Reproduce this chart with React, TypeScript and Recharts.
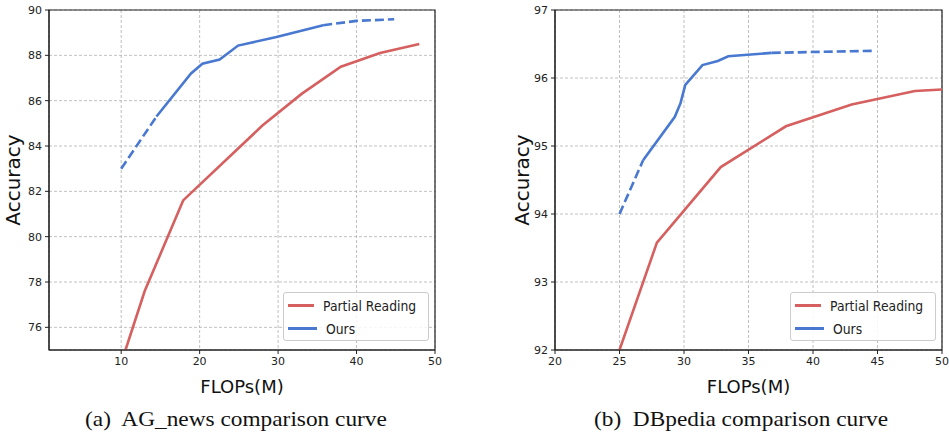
import React from 'react';
import { LineChart, Line, XAxis, YAxis, CartesianGrid, Legend, ReferenceArea } from 'recharts';

// AG_news panel
const agRedX = [10.55, 13, 17.9, 28, 33, 38, 43, 48];
const agRedY = [75.0, 77.6, 81.6, 84.9, 86.3, 87.5, 88.1, 88.5];
const agOursX = [10, 14.5, 18.9, 20.35, 22.55, 24.9, 29.8, 35.75, 40, 44.8];
const agOursY = [83.0, 85.3, 87.2, 87.63, 87.81, 88.43, 88.81, 89.33, 89.52, 89.59];
const agSolid = [1, 7]; // indexes where the solid part of "Ours" starts / ends
const agXTicks = [10, 20, 30, 40, 50];
const agYTicks = [76, 78, 80, 82, 84, 86, 88, 90];

// DBpedia panel
const dbRedX = [25, 27.9, 32.85, 37.9, 43, 47.9, 50];
const dbRedY = [92.0, 93.58, 94.69, 95.29, 95.61, 95.81, 95.83];
const dbOursX = [25, 26.83, 29.29, 29.73, 30.1, 31.43, 32.62, 33.43, 36.8, 44.8];
const dbOursY = [94.0, 94.79, 95.43, 95.63, 95.9, 96.19, 96.25, 96.32, 96.37, 96.4];
const dbSolid = [1, 8];
const dbXTicks = [20, 25, 30, 35, 40, 45, 50];
const dbYTicks = [92, 93, 94, 95, 96, 97];

const seriesNames = ['Partial Reading', 'Ours'];
const RED = '#d65f5f';
const BLUE = '#4878d0';
const FONT = 'DejaVu Sans';

const toPoints = (xs: number[], ys: number[]) => xs.map((x, i) => ({ x, y: ys[i] }));

const LegendBox = () => (
  <div
    style={{
      width: 144,
      height: 47,
      border: '1px solid #cccccc',
      borderRadius: 3,
      background: 'rgba(255,255,255,0.85)',
      fontFamily: FONT,
      fontSize: 14,
      color: '#222',
      boxSizing: 'content-box',
    }}
  >
    {seriesNames.map((name, i) => (
      <div key={name} style={{ display: 'flex', alignItems: 'center', height: 23, marginTop: i === 0 ? 1 : 0 }}>
        <div style={{ width: 29, height: 3, background: i === 0 ? RED : BLUE, marginLeft: 4, marginRight: 9 }} />
        <span style={{ display: 'inline-block', transform: 'scaleX(0.885)', transformOrigin: 'left center', whiteSpace: 'nowrap' }}>
          {name}
        </span>
      </div>
    ))}
  </div>
);

interface PanelProps {
  redX: number[];
  redY: number[];
  oursX: number[];
  oursY: number[];
  solid: number[];
  xDomain: number[];
  yDomain: number[];
  xTicks: number[];
  yTicks: number[];
  width: number;
  yAxisWidth: number;
  rightMargin: number;
  labelOffset: number;
  legendLeft: number;
}

const Panel: React.FC<PanelProps> = (p) => {
  const red = toPoints(p.redX, p.redY);
  const ours = toPoints(p.oursX, p.oursY);
  const start = ours.slice(0, p.solid[0] + 1);
  const mid = ours.slice(p.solid[0], p.solid[1] + 1);
  const end = ours.slice(p.solid[1]);
  const tickStyle = { fontSize: 11, fill: '#222', fontFamily: FONT };
  return (
    <LineChart width={p.width} height={400} margin={{ top: 10, right: p.rightMargin, left: 0, bottom: 5 }}>
      <CartesianGrid stroke="#b0b0b0" strokeDasharray="3 2" strokeWidth={0.8} />
      <XAxis
        dataKey="x"
        type="number"
        domain={p.xDomain}
        ticks={p.xTicks}
        allowDataOverflow
        height={45}
        tickSize={4}
        tickMargin={3}
        tick={tickStyle}
        stroke="#222"
        label={{ value: 'FLOPs(M)', position: 'insideBottom', offset: 2, style: { fontSize: 18, fill: '#111', fontFamily: FONT } }}
      />
      <YAxis
        dataKey="y"
        type="number"
        domain={p.yDomain}
        ticks={p.yTicks}
        allowDataOverflow
        width={p.yAxisWidth}
        tickSize={4}
        tickMargin={3}
        tick={tickStyle}
        stroke="#222"
        label={{
          value: 'Accuracy',
          angle: -90,
          position: 'insideLeft',
          offset: p.labelOffset,
          style: { fontSize: 20, fill: '#111', fontFamily: FONT, textAnchor: 'middle' },
        }}
      />
      <ReferenceArea
        x1={p.xDomain[0]}
        x2={p.xDomain[1]}
        y1={p.yDomain[0]}
        y2={p.yDomain[1]}
        fill="none"
        stroke="#222"
        strokeWidth={1.2}
      />
      <Line data={red} dataKey="y" type="linear" stroke={RED} strokeWidth={2.6} dot={false} isAnimationActive={false} legendType="none" />
      <Line data={start} dataKey="y" type="linear" stroke={BLUE} strokeWidth={2.6} strokeDasharray="9 4" dot={false} isAnimationActive={false} legendType="none" />
      <Line data={mid} dataKey="y" type="linear" stroke={BLUE} strokeWidth={2.6} dot={false} isAnimationActive={false} legendType="none" />
      <Line data={end} dataKey="y" type="linear" stroke={BLUE} strokeWidth={2.6} strokeDasharray="9 4" dot={false} isAnimationActive={false} legendType="none" />
      <Legend
        layout="vertical"
        align="center"
        verticalAlign="middle"
        content={() => <LegendBox />}
        wrapperStyle={{ left: p.legendLeft, top: 292, right: 'auto', bottom: 'auto', width: 146, height: 49 }}
      />
    </LineChart>
  );
};

const captionStyle: React.CSSProperties = {
  position: 'absolute',
  top: 406,
  fontFamily: '"Liberation Serif", serif',
  fontSize: 22,
  color: '#111',
  whiteSpace: 'pre',
  transform: 'translateX(-50%) scaleX(1.06)',
};

export default function App() {
  return (
    <div style={{ position: 'absolute', left: 0, top: 0, width: 949, height: 432, background: '#fff', overflow: 'hidden' }}>
      <div style={{ position: 'absolute', left: 0, top: 0 }}>
        <Panel
          redX={agRedX}
          redY={agRedY}
          oursX={agOursX}
          oursY={agOursY}
          solid={agSolid}
          xDomain={[0.8, 50]}
          yDomain={[75, 90]}
          xTicks={agXTicks}
          yTicks={agYTicks}
          width={470}
          yAxisWidth={49}
          rightMargin={35}
          labelOffset={13}
          legendLeft={283}
        />
      </div>
      <div style={{ position: 'absolute', left: 480, top: 0 }}>
        <Panel
          redX={dbRedX}
          redY={dbRedY}
          oursX={dbOursX}
          oursY={dbOursY}
          solid={dbSolid}
          xDomain={[20, 50]}
          yDomain={[92, 97]}
          xTicks={dbXTicks}
          yTicks={dbYTicks}
          width={469}
          yAxisWidth={75}
          rightMargin={7}
          labelOffset={42}
          legendLeft={310}
        />
      </div>
      <div style={{ ...captionStyle, left: 236 }}>(a)  AG_news comparison curve</div>
      <div style={{ ...captionStyle, left: 741 }}>(b)  DBpedia comparison curve</div>
    </div>
  );
}
